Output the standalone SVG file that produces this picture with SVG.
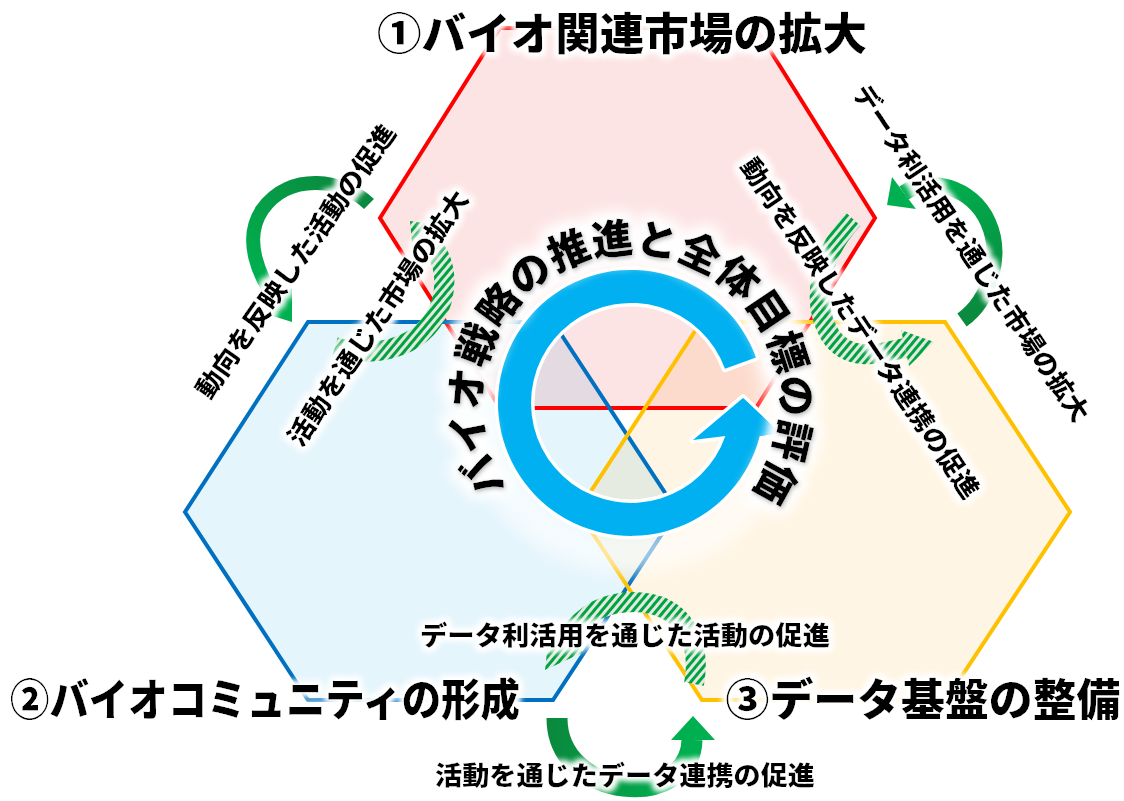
<svg xmlns="http://www.w3.org/2000/svg" width="1124" height="801" viewBox="0 0 1124 801">
<defs>
<style>
.hexfill{mix-blend-mode:multiply}
.edge{fill:none;stroke-width:4;stroke-linejoin:miter}
.lbl{font-family:"Noto Sans CJK JP","Noto Sans",sans-serif;font-weight:900;font-size:26px;fill:#000;text-anchor:middle;dominant-baseline:central}
.ttl{font-family:"Noto Sans CJK JP","Noto Sans",sans-serif;font-weight:900;font-size:44px;fill:#000;text-anchor:middle;dominant-baseline:central}
.arc{font-family:"Noto Sans CJK JP","Noto Sans",sans-serif;font-weight:900;font-size:41px;fill:#000}
.hatch{fill:none;stroke:url(#hatch);stroke-width:20}
</style>
<pattern id="hatch" patternUnits="userSpaceOnUse" width="6" height="6" patternTransform="rotate(40)">
<rect width="6" height="6" fill="#e2e8e2"/><rect width="3" height="6" fill="#00a33e"/>
</pattern>
<filter id="glow" x="-20%" y="-60%" width="140%" height="220%">
<feMorphology in="SourceAlpha" operator="dilate" radius="3" result="d"/>
<feGaussianBlur in="d" stdDeviation="3" result="b"/>
<feFlood flood-color="#fff"/>
<feComposite in2="b" operator="in" result="w"/>
<feMerge><feMergeNode in="w"/><feMergeNode in="w"/><feMergeNode in="SourceGraphic"/></feMerge>
</filter>
<filter id="glow2" x="-20%" y="-20%" width="140%" height="140%">
<feMorphology in="SourceAlpha" operator="dilate" radius="5" result="d"/>
<feGaussianBlur in="d" stdDeviation="7" result="b"/>
<feFlood flood-color="#fff"/>
<feComposite in2="b" operator="in" result="w"/>
<feGaussianBlur in="SourceAlpha" stdDeviation="2" result="sh"/>
<feOffset in="sh" dx="1" dy="2" result="sh2"/>
<feFlood flood-color="#555" flood-opacity="0.6"/>
<feComposite in2="sh2" operator="in" result="shc"/>
<feMerge><feMergeNode in="w"/><feMergeNode in="w"/><feMergeNode in="shc"/><feMergeNode in="SourceGraphic"/></feMerge>
</filter>
<filter id="blur8" x="-30%" y="-30%" width="160%" height="160%"><feGaussianBlur stdDeviation="8"/></filter>
<linearGradient id="gTL" gradientUnits="userSpaceOnUse" x1="369" y1="204" x2="276" y2="300"><stop offset="0" stop-color="#0a8a3e"/><stop offset="1" stop-color="#00b050"/></linearGradient>
<linearGradient id="gTR" gradientUnits="userSpaceOnUse" x1="962" y1="320" x2="904" y2="193"><stop offset="0" stop-color="#0a8a3e"/><stop offset="1" stop-color="#00b050"/></linearGradient>
<linearGradient id="gB" gradientUnits="userSpaceOnUse" x1="557" y1="718" x2="692" y2="740"><stop offset="0" stop-color="#0a8a3e"/><stop offset="1" stop-color="#00b050"/></linearGradient>
<linearGradient id="gHead" x1="0" y1="0" x2="1" y2="0"><stop offset="0.6" stop-color="#00b0f0"/><stop offset="1" stop-color="#9fdcf5"/></linearGradient>
<path id="arcp" d="M 507.4 488 A 150 150 0 1 1 750.6 493.5"/>
</defs>
<rect width="1124" height="801" fill="#fff"/>

<g id="hex-market">
<polygon class="hexfill" points="380,218 500,28 756,28 875,218 756,408 500,408" fill="#fde4e4"/>
</g>
<g id="hex-community">
<polygon class="hexfill" points="185,512 308,322 553,322 677,511 553,700 308,700" fill="#e5f5fc"/>
</g>
<g id="hex-data">
<polygon class="hexfill" points="578,511 701,322 945,322 1070,512 946,700 702,700" fill="#fff5e4"/>
</g>
<g id="hex-edges">
<polygon class="edge" points="380,218 500,28 756,28 875,218 756,408 500,408" stroke="#ff0000"/>
<polygon class="edge" points="185,512 308,322 553,322 677,511 553,700 308,700" stroke="#0070c0"/>
<polygon class="edge" points="578,511 701,322 945,322 1070,512 946,700 702,700" stroke="#ffc000"/>
</g>

<circle cx="631" cy="403" r="150" fill="none" stroke="#fff" stroke-width="40" opacity="0.6" filter="url(#blur8)"/>

<g id="cycle-ring">
<path d="M 756 357.5 A 133 133 0 1 0 759.8 436 L 780 433 L 743 398 L 693 440 L 725.4 436 A 100 100 0 1 1 725 368.8 Z" fill="#00b0f0" stroke="#fff" stroke-width="7" paint-order="stroke" stroke-linejoin="round"/>
<path d="M 759.8 436 L 780 433 L 743 398 Z" fill="url(#gHead)"/>
</g>

<g id="connectors">
<g id="arrow-top-left-solid">
<path d="M 369 204 C 345 180, 290 170, 262 210 C 242 240, 260 278, 276 300" fill="none" stroke="url(#gTL)" stroke-width="14"/>
<polygon points="292,322 292,288 260,312" fill="#00b050"/>
</g>
<g id="arrow-top-left-hatched">
<path class="hatch" d="M 335 347 C 380 360, 430 345, 442 300 C 448 275, 442 255, 428 240"/>
<polygon points="410,221 443,226 413,254" fill="url(#hatch)"/>
</g>
<g id="arrow-top-right-solid">
<path d="M 962 320 C 990 300, 1003 255, 988 222 C 972 186, 928 176, 904 193" fill="none" stroke="url(#gTR)" stroke-width="16"/>
<polygon points="887,205 916,209 892,177" fill="#00b050"/>
</g>
<g id="arrow-top-right-hatched">
<path class="hatch" d="M 853 219 C 820 255, 810 300, 830 335 C 850 365, 885 352, 905 348"/>
<polygon points="934,342 909,366 901,330" fill="url(#hatch)"/>
</g>
<g id="arrow-bottom-solid">
<path d="M 557 718 C 557 800, 690 810, 692 740" fill="none" stroke="url(#gB)" stroke-width="21"/>
<polygon points="693,716 671,740 715,740" fill="#00b050"/>
</g>
<g id="arrow-bottom-hatched">
<path class="hatch" d="M 694 684 C 702 640, 682 603, 635 602 C 605 602, 585 612, 565 640"/>
<polygon points="545,670 584,652 550,626" fill="url(#hatch)"/>
</g>
</g>

<g id="center-title" filter="url(#glow2)">
<text class="arc"><textPath href="#arcp" startOffset="50%" text-anchor="middle">バイオ戦略の推進と全体目標の評価</textPath></text>
</g>

<g id="labels" filter="url(#glow)">
<text class="lbl" transform="translate(294,260) rotate(-55)" textLength="327" lengthAdjust="spacingAndGlyphs">動向を反映した活動の促進</text>
<text class="lbl" transform="translate(376,317) rotate(-56)" textLength="301" lengthAdjust="spacingAndGlyphs">活動を通じた市場の拡大</text>
<text class="lbl" transform="translate(973,252) rotate(56)" textLength="400" lengthAdjust="spacingAndGlyphs">データ利活用を通じた市場の拡大</text>
<text class="lbl" transform="translate(862,327) rotate(56)" textLength="404" lengthAdjust="spacingAndGlyphs">動向を反映したデータ連携の促進</text>
<text class="lbl" x="625" y="633" textLength="410" lengthAdjust="spacingAndGlyphs">データ利活用を通じた活動の促進</text>
<text class="lbl" x="625" y="773" textLength="380" lengthAdjust="spacingAndGlyphs">活動を通じたデータ連携の促進</text>
</g>

<g id="titles" filter="url(#glow)">
<text class="ttl" x="622" y="31" textLength="490" lengthAdjust="spacingAndGlyphs">①バイオ関連市場の拡大</text>
<text class="ttl" x="265" y="697" textLength="510" lengthAdjust="spacingAndGlyphs">②バイオコミュニティの形成</text>
<text class="ttl" x="923" y="697" textLength="395" lengthAdjust="spacingAndGlyphs">③データ基盤の整備</text>
</g>
</svg>
